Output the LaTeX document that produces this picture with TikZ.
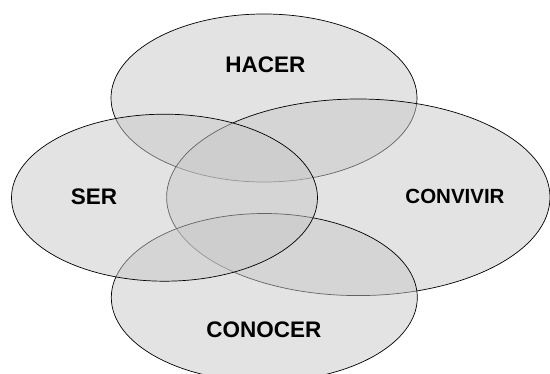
\documentclass[tikz,border=0pt]{standalone}
\usepackage{fontspec}
\setmainfont{Liberation Sans}
\usetikzlibrary{shapes.geometric}
\tikzset{
  setshape/.style={ellipse, draw=black, line width=0.7pt, fill={rgb,255:red,199;green,199;blue,199}, fill opacity=0.5, inner sep=0pt},
  setlabel/.style={font=\fontsize{22.5}{26}\selectfont\bfseries, inner sep=0pt, text=black}
}
\begin{document}
\begin{tikzpicture}[x=1pt,y=-1pt]
\useasboundingbox (0,0) rectangle (550,374);
\node[setshape, minimum width=306pt, minimum height=168pt] (hacer) at (264,98) {};
\node[setshape, minimum width=383.4pt, minimum height=196.6pt] (convivir) at (358.3,197.3) {};
\node[setshape, minimum width=306pt, minimum height=168pt] (conocer) at (264.3,297.5) {};
\node[setshape, minimum width=306pt, minimum height=167pt] (ser) at (164.5,197.7) {};
\node[setlabel] (lhacer) at (265.5,64.5) {HACER};
\node[setlabel] (lser) at (94,196.7) {SER};
\node[setlabel, font=\fontsize{20.5}{24}\selectfont\bfseries] (lconvivir) at (455,196.7) {CONVIVIR};
\node[setlabel] (lconocer) at (263.8,330) {CONOCER};
\end{tikzpicture}
\end{document}
